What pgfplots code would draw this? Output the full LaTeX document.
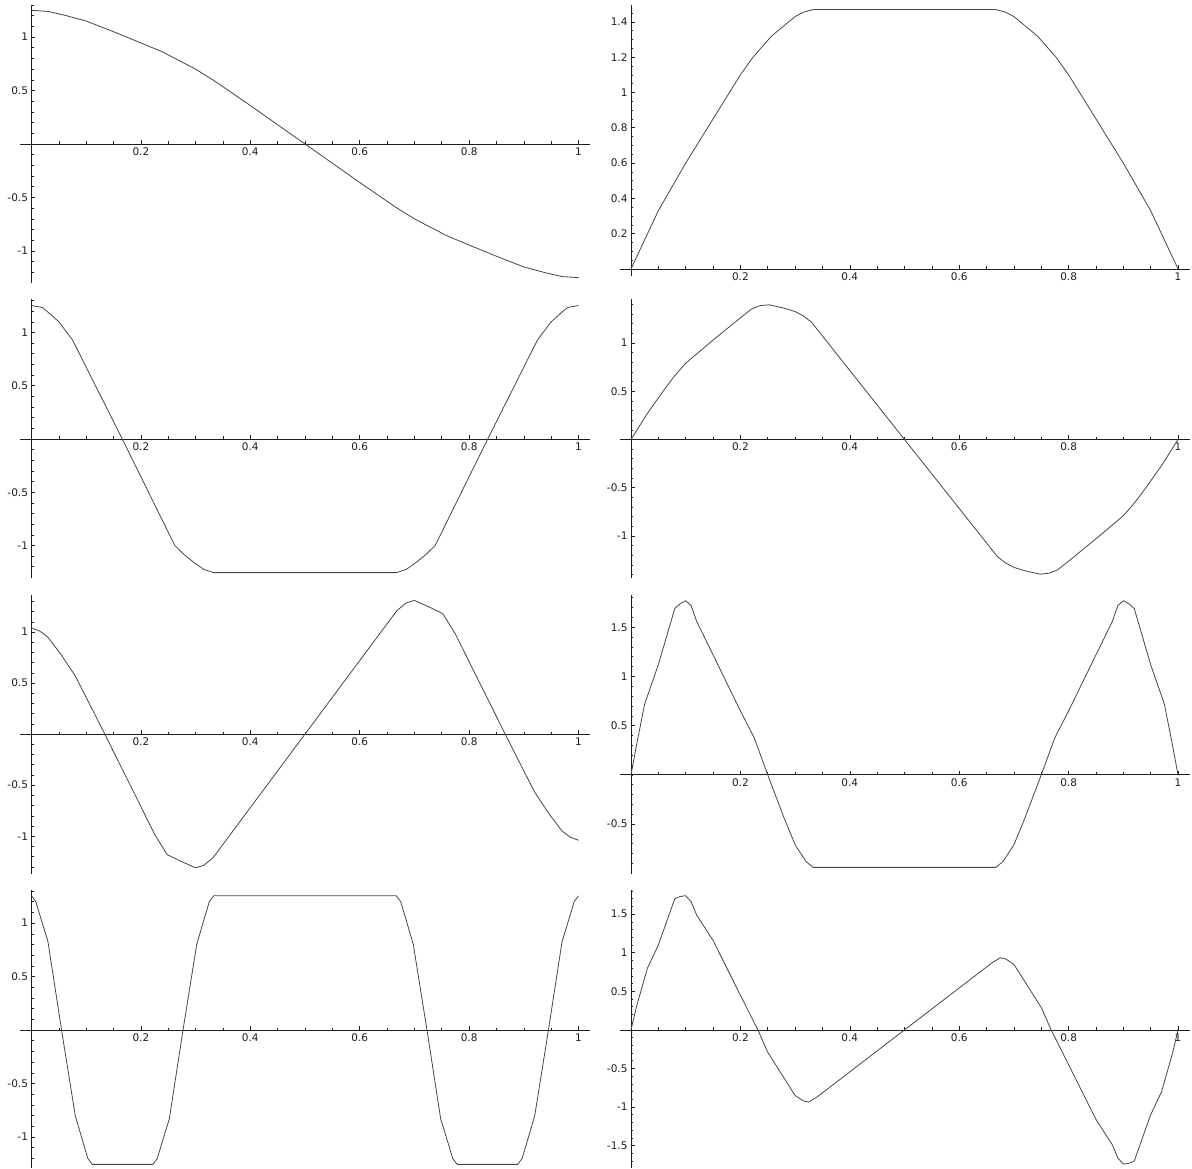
\documentclass[border=0pt]{standalone}
\usepackage{fontspec}
\setmainfont{DejaVu Sans}
\usepackage{pgfplots}
\pgfplotsset{compat=1.18}
\definecolor{curvecol}{RGB}{70,70,70}
\definecolor{axcol}{RGB}{30,30,30}
\pgfplotsset{
  panel/.style={
    scale only axis, width=570pt, anchor=south west,
    axis lines=middle, xmin=-0.021, xmax=1.021,
    xtick={0.2,0.4,0.6,0.8,1},
    minor xtick={0.05,0.1,...,1},
    tick align=inside, major tick length=4pt, minor tick length=2.5pt,
    tick style={axcol, line width=0.6pt},
    axis line style={-, axcol, line width=0.8pt},
    ticklabel style={font=\fontsize{10.5}{12}\selectfont, text=axcol},
    /pgf/number format/assume math mode=true,
    clip=false,
  },
  curve/.style={curvecol, line width=0.8pt, line join=round},
}
\begin{document}
\begin{tikzpicture}
\useasboundingbox (0pt,0pt) rectangle (1192pt,1169pt);

% row 1
\begin{axis}[panel, at={(20pt,886pt)}, height=278pt, ymin=-1.30, ymax=1.30,
  ytick={-1,-0.5,0.5,1}, minor ytick={-1.2,-1.1,...,1.25}]
\addplot[curve] coordinates {(0,1.25)(0.03,1.24)(0.06,1.205)(0.1,1.15)(0.15,1.05)(0.2,0.945)(0.24,0.86)(0.27,0.78)(0.3,0.7)(0.333,0.595)(0.4,0.36)(0.45,0.18)(0.5,0)(0.55,-0.18)(0.6,-0.36)(0.667,-0.595)(0.7,-0.7)(0.73,-0.78)(0.76,-0.86)(0.8,-0.945)(0.85,-1.05)(0.9,-1.15)(0.94,-1.205)(0.97,-1.24)(1,-1.25)};
\end{axis}
\begin{axis}[panel, at={(619.5pt,893pt)}, height=271pt, ymin=-0.04, ymax=1.496,
  ytick={0.2,0.4,...,1.45}, minor ytick={0.05,0.1,...,1.48}]
\addplot[curve] coordinates {(0,0)(0.05,0.33)(0.1,0.6)(0.15,0.85)(0.2,1.1)(0.223,1.2)(0.257,1.32)(0.3,1.43)(0.315,1.455)(0.333,1.47)(0.667,1.47)(0.685,1.455)(0.7,1.43)(0.743,1.32)(0.777,1.2)(0.8,1.1)(0.85,0.85)(0.9,0.6)(0.95,0.33)(1,0)};
\end{axis}

% row 2
\begin{axis}[panel, at={(20pt,590.5pt)}, height=279pt, ymin=-1.31, ymax=1.31,
  ytick={-1,-0.5,0.5,1}, minor ytick={-1.2,-1.1,...,1.25}]
\addplot[curve] coordinates {(0,1.253)(0.02,1.235)(0.035,1.17)(0.05,1.1)(0.075,0.93)(0.166,0)(0.262,-1.0)(0.28,-1.09)(0.297,-1.16)(0.315,-1.225)(0.333,-1.255)(0.667,-1.255)(0.685,-1.225)(0.703,-1.16)(0.72,-1.09)(0.738,-1.0)(0.834,0)(0.925,0.93)(0.95,1.1)(0.965,1.17)(0.98,1.235)(1,1.253)};
\end{axis}
\begin{axis}[panel, at={(619.5pt,590.5pt)}, height=279pt, ymin=-1.44, ymax=1.45,
  ytick={-1,-0.5,0.5,1}, minor ytick={-1.4,-1.3,...,1.45}]
\addplot[curve] coordinates {(0,0)(0.03,0.27)(0.06,0.51)(0.08,0.66)(0.1,0.79)(0.148,1.02)(0.2,1.26)(0.22,1.35)(0.235,1.385)(0.252,1.395)(0.28,1.36)(0.3,1.325)(0.315,1.28)(0.33,1.215)(0.5,0)(0.67,-1.215)(0.685,-1.28)(0.7,-1.325)(0.72,-1.36)(0.748,-1.395)(0.765,-1.385)(0.78,-1.35)(0.8,-1.26)(0.852,-1.02)(0.9,-0.79)(0.92,-0.66)(0.94,-0.51)(0.97,-0.27)(1,0)};
\end{axis}

% row 3
\begin{axis}[panel, at={(20pt,295pt)}, height=279pt, ymin=-1.37, ymax=1.363,
  ytick={-1,-0.5,0.5,1}, minor ytick={-1.3,-1.2,...,1.35}]
\addplot[curve] coordinates {(0,1.04)(0.015,1.01)(0.03,0.95)(0.054,0.78)(0.08,0.57)(0.1,0.36)(0.134,0)(0.2,-0.71)(0.225,-0.98)(0.248,-1.18)(0.273,-1.245)(0.3,-1.31)(0.315,-1.285)(0.332,-1.21)(0.5,0)(0.668,1.21)(0.685,1.285)(0.7,1.31)(0.727,1.245)(0.752,1.18)(0.775,0.98)(0.8,0.71)(0.866,0)(0.9,-0.36)(0.92,-0.57)(0.946,-0.78)(0.97,-0.95)(0.985,-1.01)(1,-1.04)};
\end{axis}
\begin{axis}[panel, at={(619.5pt,295pt)}, height=279pt, ymin=-1.007, ymax=1.828,
  ytick={-0.5,0.5,1,1.5}, minor ytick={-0.9,-0.8,...,1.82}]
\addplot[curve] coordinates {(0,0)(0.01,0.3)(0.025,0.72)(0.05,1.12)(0.08,1.69)(0.09,1.74)(0.1,1.77)(0.11,1.72)(0.12,1.56)(0.15,1.22)(0.2,0.65)(0.225,0.38)(0.25,0)(0.28,-0.44)(0.3,-0.71)(0.32,-0.88)(0.333,-0.94)(0.667,-0.94)(0.68,-0.88)(0.7,-0.71)(0.72,-0.44)(0.75,0)(0.775,0.38)(0.8,0.65)(0.85,1.22)(0.88,1.56)(0.89,1.72)(0.9,1.77)(0.91,1.74)(0.92,1.69)(0.95,1.12)(0.975,0.72)(0.99,0.3)(1,0)};
\end{axis}

% row 4
\begin{axis}[panel, at={(20pt,1pt)}, height=278pt, ymin=-1.29, ymax=1.31,
  ytick={-1,-0.5,0.5,1}, minor ytick={-1.2,-1.1,...,1.25}]
\addplot[curve] coordinates {(0,1.256)(0.008,1.2)(0.015,1.08)(0.03,0.83)(0.055,0)(0.08,-0.8)(0.096,-1.08)(0.103,-1.2)(0.111,-1.256)(0.222,-1.256)(0.23,-1.2)(0.237,-1.08)(0.252,-0.83)(0.277,0)(0.302,0.8)(0.318,1.08)(0.325,1.2)(0.333,1.256)(0.667,1.256)(0.675,1.2)(0.682,1.08)(0.698,0.8)(0.723,0)(0.748,-0.83)(0.763,-1.08)(0.77,-1.2)(0.778,-1.256)(0.889,-1.256)(0.897,-1.2)(0.904,-1.08)(0.92,-0.8)(0.945,0)(0.97,0.83)(0.985,1.08)(0.992,1.2)(1,1.256)};
\end{axis}
\begin{axis}[panel, at={(619.5pt,1pt)}, height=278pt, ymin=-1.79, ymax=1.814,
  ytick={-1.5,-1,-0.5,0.5,1,1.5}, minor ytick={-1.7,-1.6,...,1.8}]
\addplot[curve] coordinates {(0,0)(0.01,0.3)(0.03,0.8)(0.05,1.1)(0.08,1.7)(0.09,1.73)(0.1,1.74)(0.11,1.66)(0.12,1.49)(0.15,1.16)(0.2,0.45)(0.232,0)(0.25,-0.29)(0.3,-0.85)(0.315,-0.92)(0.325,-0.935)(0.34,-0.87)(0.5,0)(0.66,0.87)(0.675,0.935)(0.685,0.92)(0.7,0.85)(0.75,0.29)(0.768,0)(0.8,-0.45)(0.85,-1.16)(0.88,-1.49)(0.89,-1.66)(0.9,-1.74)(0.91,-1.73)(0.92,-1.7)(0.95,-1.1)(0.97,-0.8)(0.99,-0.3)(1,0)};
\end{axis}
\end{tikzpicture}
\end{document}
